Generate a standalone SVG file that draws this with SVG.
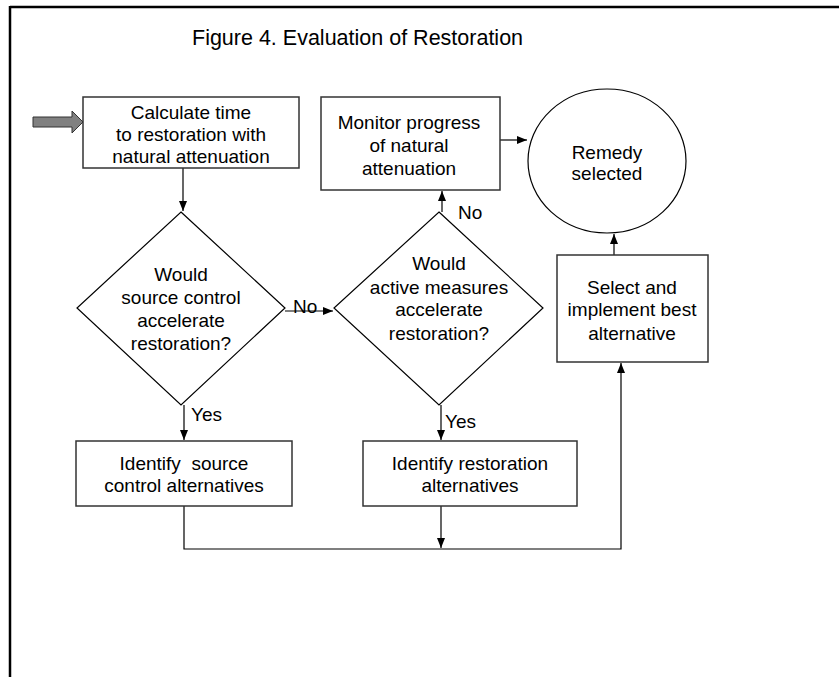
<svg xmlns="http://www.w3.org/2000/svg" width="839" height="677" viewBox="0 0 839 677">
<style>
  text { font-family: "Liberation Sans", Arial, sans-serif; font-size: 19px; fill: #000; }
  .c { text-anchor: middle; }
  .box { fill: #fff; stroke: #333; stroke-width: 1.5; }
  .shape { fill: #fff; stroke: #000; stroke-width: 1.2; }
  .ln { fill: none; stroke: #000; stroke-width: 1.2; }
</style>
<defs>
  <marker id="ah" markerWidth="10" markerHeight="8" refX="10" refY="4" orient="auto" markerUnits="userSpaceOnUse">
    <path d="M0,0 L10,4 L0,8 Z" fill="#000"/>
  </marker>
</defs>
<rect width="839" height="677" fill="#fff"/>
<g id="frame">
  <line x1="10" y1="7" x2="839" y2="7" stroke="#000" stroke-width="2.5"/>
  <line x1="10" y1="6" x2="10" y2="677" stroke="#000" stroke-width="2.5"/>
</g>
<text x="192" y="45" style="font-size:21.5px">Figure 4. Evaluation of Restoration</text>

<g id="connectors">
  <path class="ln" d="M183,168 V211" marker-end="url(#ah)"/>
  <path class="ln" d="M285,311 H333" marker-end="url(#ah)"/>
  <path class="ln" d="M442,212 V191" marker-end="url(#ah)"/>
  <path class="ln" d="M500,140 H527" marker-end="url(#ah)"/>
  <path class="ln" d="M614,255 V234" marker-end="url(#ah)"/>
  <path class="ln" d="M184,405 V440" marker-end="url(#ah)"/>
  <path class="ln" d="M441,405 V440" marker-end="url(#ah)"/>
  <path class="ln" d="M184,506 V549 H621 V363" marker-end="url(#ah)"/>
  <path class="ln" d="M441,506 V548" marker-end="url(#ah)"/>
  <text x="293" y="312.5">No</text>
  <text x="458" y="218.5">No</text>
  <text x="191" y="420.5">Yes</text>
  <text x="445" y="427.5">Yes</text>
</g>

<g id="start-arrow">
  <path d="M33,117 H72 V111 L83,122 L72,133 V127 H33 Z" fill="#808080" stroke="#333" stroke-width="1"/>
</g>

<g id="calc">
  <rect class="box" x="83" y="97" width="216" height="71"/>
  <text class="c" x="191" y="118.5">Calculate time</text>
  <text class="c" x="191" y="140.5">to restoration with</text>
  <text class="c" x="191" y="162.5">natural attenuation</text>
</g>

<g id="monitor">
  <rect class="box" x="321" y="97" width="179" height="93"/>
  <text class="c" x="409" y="129">Monitor progress</text>
  <text class="c" x="409" y="152">of natural</text>
  <text class="c" x="409" y="175">attenuation</text>
</g>

<g id="remedy">
  <ellipse class="shape" cx="607" cy="161" rx="79" ry="72"/>
  <text class="c" x="607" y="158.5">Remedy</text>
  <text class="c" x="607" y="180">selected</text>
</g>

<g id="q-source">
  <polygon class="shape" points="181,212 285,308 181,405 77,308"/>
  <text class="c" x="181" y="280.5">Would</text>
  <text class="c" x="181" y="304">source control</text>
  <text class="c" x="181" y="327">accelerate</text>
  <text class="c" x="181" y="350">restoration?</text>
</g>

<g id="q-active">
  <polygon class="shape" points="439,212 543,308 439,405 334,308"/>
  <text class="c" x="439" y="269.5">Would</text>
  <text class="c" x="439" y="293.5">active measures</text>
  <text class="c" x="439" y="315.5">accelerate</text>
  <text class="c" x="439" y="339.5">restoration?</text>
</g>

<g id="select">
  <rect class="box" x="557" y="255" width="151" height="107"/>
  <text class="c" x="632" y="293.5">Select and</text>
  <text class="c" x="632" y="315.5">implement best</text>
  <text class="c" x="632" y="339.5">alternative</text>
</g>

<g id="id-source">
  <rect class="box" x="76" y="441" width="216" height="65"/>
  <text class="c" x="184" y="469.5" xml:space="preserve">Identify  source</text>
  <text class="c" x="184" y="491.5">control alternatives</text>
</g>

<g id="id-restoration">
  <rect class="box" x="363" y="441" width="214" height="65"/>
  <text class="c" x="470" y="469.5">Identify restoration</text>
  <text class="c" x="470" y="491.5">alternatives</text>
</g>
</svg>
